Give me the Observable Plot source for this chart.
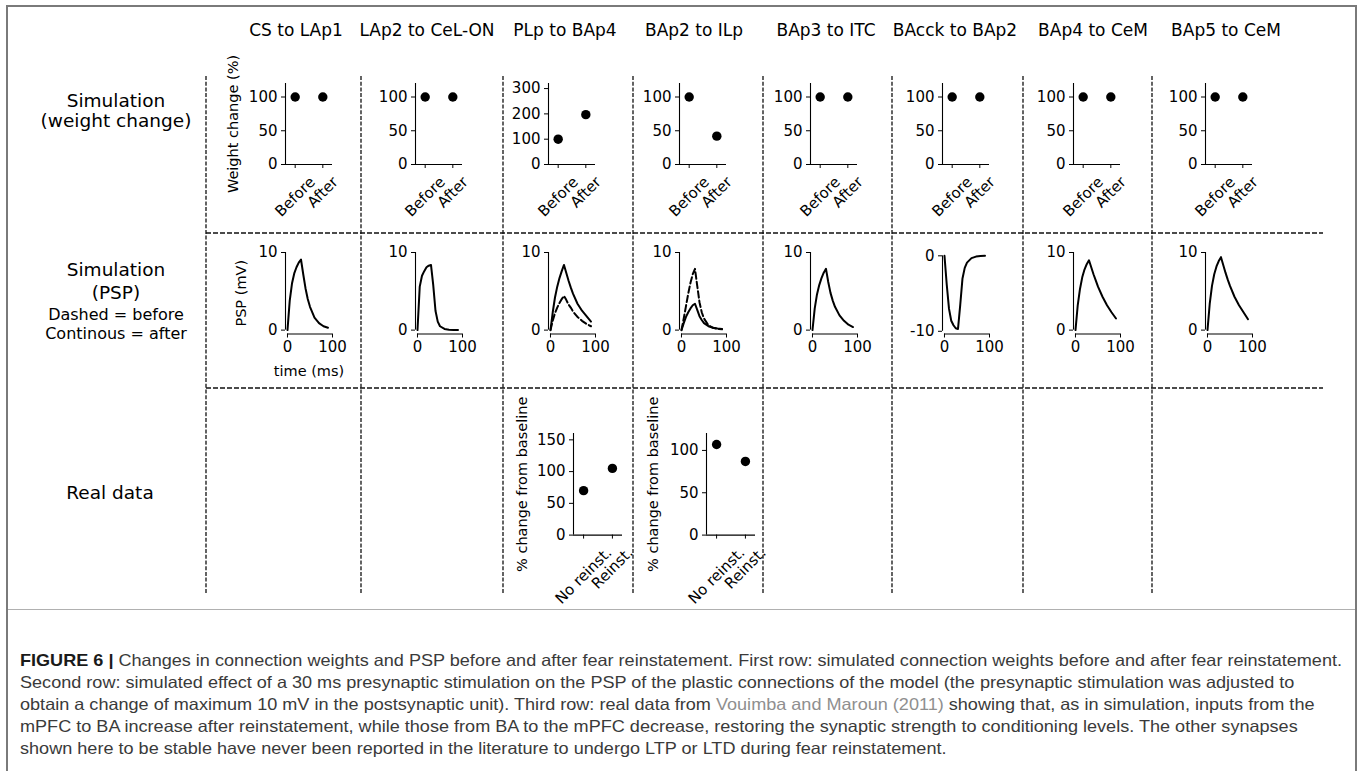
<!DOCTYPE html>
<html><head><meta charset="utf-8">
<script src="https://cdn.jsdelivr.net/npm/d3@7"></script>
<script src="https://cdn.jsdelivr.net/npm/@observablehq/plot@0.6"></script>
<style>
body{margin:0;background:#fff;}
#page{position:relative;width:1360px;height:771px;overflow:hidden;font-family:"DejaVu Sans",sans-serif;color:#000;}
.lbl{position:absolute;transform:translate(-50%,-50%);white-space:nowrap;text-align:center;}
#frame{position:absolute;left:6px;top:5px;width:1347px;height:800px;border:2px solid #7a7a7a;}
#capline{position:absolute;left:8px;top:609px;width:1347px;height:0;border-top:1px solid #b0b0b0;}
#caption{position:absolute;left:20px;top:650px;font-family:"Liberation Sans Narrow","Liberation Sans",Arial,sans-serif;font-size:16.5px;line-height:21.9px;color:#3a3a3a;white-space:nowrap;transform-origin:0 0;}
#caption b{color:#1a1a1a;}
#caption .ref{color:#8f8f8f;}
</style></head><body><div id="page"><div id="frame"></div><div id="capline"></div></div>
<script>
// ---------------- data ----------------
const connections = ["CS to LAp1","LAp2 to CeL-ON","PLp to BAp4","BAp2 to ILp","BAp3 to ITC","BAcck to BAp2","BAp4 to CeM","BAp5 to CeM"];
const conditions = ["Before","After"];
const weightBefore = [100,100,100,100,100,100,100,100];
const weightAfter  = [100,100,197,42,100,100,100,100];

const pspTime = [0,5,10,15,20,25,30,35,40,45,50,60,70,80,90];
const pspCStoLAp1        = [0,3.8,6.0,7.3,8.1,8.7,9.1,7.2,5.4,4.0,3.0,1.6,0.9,0.5,0.3];
const pspLAp2toCeLON     = [0,5.6,7.0,7.6,8.1,8.3,8.4,5.8,2.5,1.1,0.5,0.15,0.05,0.02,0.01];
const pspPLpToBAp4After  = [0,2.3,4.2,5.6,6.7,7.6,8.4,7.4,6.4,5.5,4.7,3.4,2.5,1.8,1.1];
const pspPLpToBAp4Before = [0,1.2,2.2,2.9,3.5,4.0,4.4,3.9,3.3,2.9,2.4,1.7,1.2,0.8,0.5];
const pspBAp2ToILpAfter  = [0,0.9,1.7,2.3,2.8,3.2,3.4,2.6,1.8,1.3,0.9,0.5,0.3,0.2,0.15];
const pspBAp2ToILpBefore = [0,1.5,3.1,4.7,6.1,7.2,7.9,5.7,3.6,2.3,1.5,0.6,0.3,0.15,0.1];
const pspBAp3ToITC       = [0,2.8,4.6,5.8,6.7,7.4,7.9,6.2,4.8,3.8,3.0,1.9,1.2,0.7,0.4];
const pspBAcckToBAp2     = [0,-3.8,-7.0,-8.6,-9.2,-9.6,-9.7,-6.5,-3.0,-1.6,-0.9,-0.3,-0.1,-0.03,0];
const pspBAp4ToCeM       = [0,3.2,5.3,6.8,7.8,8.5,9.0,8.1,7.2,6.4,5.6,4.3,3.2,2.3,1.5];
const pspBAp5ToCeM       = [0,3.4,5.7,7.2,8.2,8.9,9.4,8.4,7.4,6.5,5.7,4.3,3.2,2.3,1.4];
const pspAfter  = [pspCStoLAp1,pspLAp2toCeLON,pspPLpToBAp4After,pspBAp2ToILpAfter,pspBAp3ToITC,pspBAcckToBAp2,pspBAp4ToCeM,pspBAp5ToCeM];
const pspBefore = [null,null,pspPLpToBAp4Before,pspBAp2ToILpBefore,null,null,null,null];

const realConditions = ["No reinst.","Reinst."];
const realPLpToBAp4 = [70,105];
const realBAp2ToILp = [107,87];

const rowLabels = ["Simulation\n(weight change)","Simulation\n(PSP)","Real data"];
const pspLegend = ["Dashed = before","Continous = after"];
const captionLines = [
 "Changes in connection weights and PSP before and after fear reinstatement. First row: simulated connection weights before and after fear reinstatement.",
 "Second row: simulated effect of a 30 ms presynaptic stimulation on the PSP of the plastic connections of the model (the presynaptic stimulation was adjusted to",
 "obtain a change of maximum 10 mV in the postsynaptic unit). Third row: real data from |Vouimba and Maroun (2011)| showing that, as in simulation, inputs from the",
 "mPFC to BA increase after reinstatement, while those from BA to the mPFC decrease, restoring the synaptic strength to conditioning levels. The other synapses",
 "shown here to be stable have never been reported in the literature to undergo LTP or LTD during fear reinstatement."
];

// ---------------- layout ----------------
const page = document.getElementById("page");
const axisLeft = [285,415,548,679,810,942,1073,1205];
const titleX = [296,427,565,694,826,955,1093,1226];
const vSep = [206,361,503,633,763,892,1023,1152];
const hSep = [233,388];
const ML=80, MR=30, MT=15, MB=80;
const FS = 15;      // tick labels
const LFS = 14.5;   // axis labels

const ctx = document.createElement("canvas").getContext("2d");
function textW(s){ ctx.font = FS + 'px "DejaVu Sans"'; return ctx.measureText(s).width; }
function rotDy(s){ return 9 + (textW(s) + 17) * Math.SQRT1_2 / 2; }

function panel(left, top, w, h, opts){
  const svg = Plot.plot(Object.assign({
    width: w+ML+MR, height: h+MT+MB,
    marginLeft: ML, marginRight: MR, marginTop: MT, marginBottom: MB,
    style: {fontFamily:'"DejaVu Sans"', fontSize: FS+"px", background:"transparent", overflow:"visible", color:"#000"}
  }, opts));
  svg.style.position = "absolute";
  svg.style.left = (left-ML)+"px";
  svg.style.top = (top-MT)+"px";
  page.appendChild(svg);
}
function catLabels(labels){
  return labels.map((lab,i)=>Plot.text([{pos:i, lab}], {x:"pos", text:"lab", frameAnchor:"bottom", rotate:-45, textAnchor:"middle", lineAnchor:"middle", dy: rotDy(lab), fontSize:FS}));
}
const XCAT = [-0.35, 1.35];
const fmt = d => String(d);

// Row 1: weight change
connections.forEach((c, k) => {
  const ymax = weightAfter[k] > 150 ? 320 : 120;
  const ticks = ymax > 150 ? [0,100,200,300] : [0,50,100];
  const data = conditions.map((cond,i)=>({pos:i, cond, v: i===0 ? weightBefore[k] : weightAfter[k]}));
  const marks = [
    Plot.ruleY([0], {strokeWidth:1.1}),
    Plot.ruleX([XCAT[0]], {strokeWidth:1.1}),
    Plot.axisY({ticks, tickSize:4, tickPadding:4, tickFormat:fmt, label:null, fontSize:FS}),
    Plot.axisX({ticks:[0,1], tickSize:4, tickFormat:()=>"", label:null}),
    Plot.dot(data, {x:"pos", y:"v", r:4.7, fill:"black", stroke:"none"}),
    ...catLabels(conditions)
  ];
  if (k===0) marks.push(Plot.text(["Weight change (%)"], {frameAnchor:"left", dx:-52, rotate:-90, textAnchor:"middle", lineAnchor:"middle", fontSize:LFS}));
  panel(axisLeft[k], 83, 47, 81, {x:{domain:XCAT, axis:null}, y:{domain:[0,ymax], axis:null}, marks});
});

// Row 2: PSP traces
connections.forEach((c, k) => {
  const neg = d3.min(pspAfter[k]) < -5;
  const ydom = neg ? [-10.36, 0.44] : [-0.5, 10];
  const yt = neg ? [-10, 0] : [0, 10];
  const marks = [
    Plot.ruleY([ydom[0]], {x1:0, x2:100, strokeWidth:1.1}),
    Plot.ruleX([-4.4], {y1:yt[0], y2:yt[1], strokeWidth:1.1}),
    Plot.axisY({ticks:yt, tickSize:4, tickPadding:4, tickFormat:fmt, label:null, fontSize:FS}),
    Plot.axisX({ticks:[0,100], tickSize:4, tickPadding:3, tickFormat:fmt, label:null, fontSize:FS}),
  ];
  if (pspBefore[k]) marks.push(Plot.line(pspTime, {x:d=>d, y:(d,i)=>pspBefore[k][i], stroke:"black", strokeWidth:2, strokeDasharray:"6.5,3"}));
  marks.push(Plot.line(pspTime, {x:d=>d, y:(d,i)=>pspAfter[k][i], stroke:"black", strokeWidth:2}));
  if (k===0) {
    marks.push(Plot.text(["PSP (mV)"], {frameAnchor:"left", dx:-44.5, rotate:-90, textAnchor:"middle", lineAnchor:"middle", fontSize:LFS}));
    marks.push(Plot.text(["time (ms)"], {frameAnchor:"bottom", dy:37, textAnchor:"middle", lineAnchor:"middle", fontSize:LFS}));
  }
  panel(axisLeft[k], 251.7, 47, 81.5, {x:{domain:[-4.4,100], axis:null}, y:{domain:ydom, axis:null}, marks});
});

// Row 3: real data
[[2, realPLpToBAp4, 160, [0,50,100,150], 573.3, -51.6], [3, realBAp2ToILp, 120, [0,50,100], 705.7, -53.4]].forEach(([k, vals, ymax, ticks, left, dxl]) => {
  const data = realConditions.map((cond,i)=>({pos:i, cond, v: vals[i]}));
  const marks = [
    Plot.ruleY([0], {strokeWidth:1.1}),
    Plot.ruleX([XCAT[0]], {strokeWidth:1.1}),
    Plot.axisY({ticks, tickSize:4, tickPadding:4, tickFormat:fmt, label:null, fontSize:FS}),
    Plot.axisX({ticks:[0,1], tickSize:4, tickFormat:()=>"", label:null}),
    Plot.dot(data, {x:"pos", y:"v", r:4.7, fill:"black", stroke:"none"}),
    ...catLabels(realConditions),
    Plot.text(["% change from baseline"], {frameAnchor:"left", dx:dxl, rotate:-90, textAnchor:"middle", lineAnchor:"middle", fontSize:LFS})
  ];
  panel(left, 432.7, 49, 101.6, {x:{domain:XCAT, axis:null}, y:{domain:[0,ymax], axis:null}, marks});
});

// separators
const sep = d3.select(page).append("svg").attr("width",1360).attr("height",771)
  .style("position","absolute").style("left","0px").style("top","0px").style("pointer-events","none");
vSep.forEach(x => sep.append("line").attr("x1",x).attr("x2",x).attr("y1",76).attr("y2",594)
  .attr("stroke","#111").attr("stroke-width",1.3).attr("stroke-dasharray","4,1.7"));
hSep.forEach(y => sep.append("line").attr("x1",206).attr("x2",1323).attr("y1",y).attr("y2",y)
  .attr("stroke","#111").attr("stroke-width",1.3).attr("stroke-dasharray","5,2"));

// titles
connections.forEach((c,k)=>{
  const d = document.createElement("div"); d.className="lbl"; d.textContent=c;
  d.style.left=titleX[k]+"px"; d.style.top="30px"; d.style.fontSize="17px"; page.appendChild(d);
});
// row labels
function rowLabel(text, x, y, size, lh){
  const d = document.createElement("div"); d.className="lbl";
  d.innerHTML = text.split("\n").join("<br>");
  d.style.left=x+"px"; d.style.top=y+"px"; d.style.fontSize=size+"px"; d.style.lineHeight=lh+"px";
  page.appendChild(d);
}
rowLabel(rowLabels[0], 116, 111, 18.5, 20);
rowLabel(rowLabels[1], 116, 281, 18.5, 22.5);
rowLabel(pspLegend.join("\n"), 116, 323.5, 16, 19.5);
rowLabel(rowLabels[2], 110, 493, 18.5, 22);

// caption
const cap = document.createElement("div"); cap.id="caption";
cap.innerHTML = captionLines.map((l,i)=>{
  const parts = l.split("|");
  let html = parts.length===3 ? parts[0] + '<span class="ref">' + parts[1] + '</span>' + parts[2] : l;
  if (i===0) html = '<b>FIGURE 6 |</b> ' + html;
  return '<div>' + html + '</div>';
}).join("");
page.appendChild(cap);
const spanW = (function(){ const r=document.createRange(); r.selectNodeContents(cap.firstChild); return r.getBoundingClientRect().width; })();
cap.style.transform = "scaleX(" + (1322 / spanW) + ")";
</script></body></html>
